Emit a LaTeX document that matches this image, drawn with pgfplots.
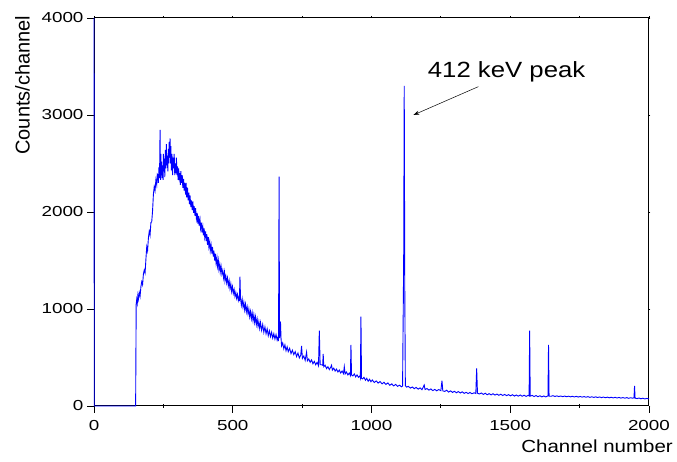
\documentclass[border=0pt]{standalone}
\usepackage{fontspec}
\setmainfont{Liberation Sans}
\newfontfamily\tickfont{Liberation Sans}[FakeStretch=1.3]
\newfontfamily\labfont{Liberation Sans}[FakeStretch=1.17]
\usepackage{pgfplots}
\pgfplotsset{compat=1.18}
\usetikzlibrary{arrows.meta}
\definecolor{specblue}{RGB}{0,0,255}

\begin{document}
\begin{tikzpicture}
% small ticks on the top and right sides (drawn first, so the spectrum lies over them)
\begin{axis}[
    scale only axis,
    width=555pt, height=388pt,
    xmin=0, xmax=2000, ymin=0, ymax=4000,
    xtick={0,250,...,2000}, ytick={0,1000,...,4000},
    xtick pos=top, ytick pos=right,
    tick align=outside,
    major tick length=1.5pt,
    xticklabels={}, yticklabels={},
    axis line style={line width=1pt},
    every tick/.append style={black, line width=0.8pt},
]
\end{axis}
\begin{axis}[
    scale only axis,
    width=555pt, height=388pt,
    xmin=0, xmax=2000, ymin=0, ymax=4000,
    xtick={0,500,...,2000}, ytick={0,1000,...,4000},
    minor x tick num=1,
    xtick pos=bottom, ytick pos=left,
    tick align=outside,
    major tick length=7pt, minor tick length=4pt,
    every minor tick/.append style={yshift=2pt},
    axis line style={line width=1pt},
    every tick/.append style={black, line width=0.8pt},
    /pgf/number format/1000 sep={},
    /pgf/number format/assume math mode=true,
    tick label style={font=\tickfont\fontsize{14.5}{15}\selectfont},
    xticklabel style={yshift=-4pt},
    clip=false,
]
\addplot[specblue, line width=0.9pt] table {
0 4000
1 0
150 0
152 1050
154 1100
156 1060
158 1140
160 1100
163 1170
166 1130
169 1230
172 1280
175 1250
178 1360
181 1400
184 1370
187 1510
190 1640
193 1600
196 1730
199 1800
202 1760
205 1890
208 1900
211 2010
214 2180
217 2260
220 2220
223 2330
226 2280
228 2390
230 2380
232 2300
234 2460
236 2350
237 2560
238 2846
239 2500
240 2330
241 2600
242 2380
244 2520
245 2350
247 2480
249 2330
250 2600
252 2420
254 2550
255 2360
257 2640
259 2450
261 2700
262 2480
264 2580
266 2420
268 2650
269 2500
271 2720
272 2560
274 2760
275 2500
277 2680
279 2430
281 2600
283 2380
285 2560
287 2450
289 2600
291 2380
293 2500
295 2400
297 2560
299 2380
301 2470
303 2330
305 2450
307 2360
309 2400
311 2280
313 2420
315 2300
318 2380
320 2250
323 2340
325 2220
327 2300
330 2180
332 2300
334 2150
337 2250
339 2120
342 2200
344 2080
346 2170
349 2050
351 2120
354 2020
356 2110
359 1990
361 2060
364 1960
366 2040
369 1930
372 1990
374 1880
377 1960
379 1860
382 1920
384 1830
387 1890
389 1790
392 1850
394 1760
397 1830
399 1740
402 1800
404 1700
407 1770
409 1660
412 1740
414 1640
417 1690
419 1600
422 1660
425 1570
427 1640
430 1540
432 1600
435 1500
437 1570
440 1470
443 1530
445 1440
448 1500
450 1410
453 1460
455 1380
458 1440
461 1360
464 1400
467 1320
470 1380
472 1290
475 1340
478 1270
481 1320
484 1240
487 1290
490 1210
493 1260
496 1180
499 1230
502 1160
505 1200
508 1130
511 1170
514 1110
517 1150
520 1090
523 1130
524 1080
526 1333
528 1110
531 1040
534 1100
537 1020
540 1070
543 990
546 1050
549 970
552 1020
555 950
558 1000
561 920
564 975
567 900
570 960
573 880
576 940
579 860
582 920
585 840
588 895
591 820
594 870
597 800
600 860
604 780
608 840
612 760
616 815
620 745
624 795
628 725
632 775
636 715
640 760
644 700
648 745
652 690
656 735
660 680
663 710
665 670
666 1500
667 2364
668 1200
669 700
671 760
672 870
674 700
676 620
680 650
684 590
688 630
692 570
696 610
700 560
705 595
710 540
715 575
720 530
725 560
730 510
735 545
740 495
745 525
748 618
751 490
756 515
761 470
766 555
769 465
774 485
779 450
784 475
789 435
794 460
799 425
804 450
809 415
812 777
815 425
820 425
824 420
826 536
828 405
833 420
838 385
843 405
848 375
853 400
856 420
859 370
864 390
869 360
874 380
879 350
884 370
889 340
894 360
899 335
902 405
905 330
910 350
915 320
920 340
924 315
926 629
928 320
933 310
938 330
943 300
948 320
953 295
958 310
960 290
962 921
964 285
968 280
973 295
978 265
983 285
988 255
993 275
998 250
1003 268
1010 242
1017 258
1024 236
1031 252
1038 228
1045 244
1052 222
1059 238
1066 213
1073 228
1080 207
1087 222
1094 202
1101 214
1108 198
1112 206
1116 1500
1118 3300
1120 1200
1122 210
1126 195
1133 202
1140 184
1147 196
1154 178
1161 192
1168 173
1175 186
1182 168
1190 216
1193 170
1200 180
1207 163
1214 176
1221 158
1228 171
1235 156
1242 169
1250 158
1254 261
1257 156
1264 150
1271 162
1278 143
1285 156
1292 140
1299 151
1306 136
1313 149
1320 134
1327 146
1334 130
1341 141
1348 128
1355 139
1362 126
1370 136
1376 129
1379 388
1382 131
1389 124
1396 134
1403 119
1410 131
1417 116
1424 127
1431 114
1438 126
1445 112
1452 123
1459 110
1466 121
1473 108
1480 119
1487 106
1494 117
1501 104
1508 116
1515 102
1522 113
1529 101
1536 113
1543 100
1550 111
1557 99
1564 109
1568 104
1570 777
1572 101
1579 109
1586 97
1593 107
1600 95
1607 105
1614 94
1621 103
1628 93
1633 100
1636 105
1638 629
1640 100
1647 100
1654 106
1661 98
1668 104
1675 97
1682 103
1689 96
1696 102
1703 95
1710 101
1717 94
1724 100
1731 93
1738 99
1745 92
1752 98
1759 91
1766 97
1773 90
1780 96
1787 89
1794 95
1801 88
1808 94
1815 87
1822 93
1829 86
1836 92
1843 85
1850 91
1857 84
1864 90
1871 83
1878 89
1885 82
1892 88
1899 81
1906 87
1913 80
1920 86
1927 79
1934 85
1941 80
1946 84
1948 206
1950 80
1957 76
1964 82
1971 74
1978 80
1985 72
1992 78
2000 72
};
\draw[black, line width=0.5pt, -{Stealth[length=6pt, width=4pt]}]
    (axis cs:1385,3292) -- (axis cs:1151,3000);
\node[font=\labfont\fontsize{22}{22}\selectfont, anchor=center, inner sep=0pt]
    at (axis cs:1487,3447) {412 keV peak};
\node[font=\labfont\fontsize{17.5}{18}\selectfont, anchor=north east, inner sep=0pt]
    at ([xshift=24pt, yshift=-34pt]rel axis cs:1,0) {Channel number};
\node[font=\fontsize{20}{20}\selectfont, rotate=90, anchor=center, inner sep=0pt]
    at ([xshift=-71.5pt]rel axis cs:0,0.827) {Counts/channel};
\coordinate (bl) at (rel axis cs:-0.1694,-0.1443);
\coordinate (tr) at (rel axis cs:1.0505,1.0464);
\end{axis}
\path (bl) rectangle (tr);
\end{tikzpicture}
\end{document}
